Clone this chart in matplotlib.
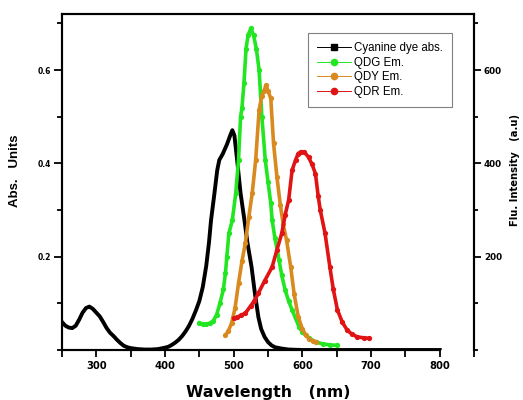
import matplotlib
matplotlib.use('Agg')
import matplotlib.pyplot as plt
from matplotlib.lines import Line2D
from matplotlib.ticker import MultipleLocator

# ---- data ----

abs_nm = [250, 255, 260, 265, 270, 275, 280, 285, 290, 295, 300, 305, 310, 315, 320,
          325, 330, 335, 340, 345, 350, 360, 370, 380, 390, 400, 405, 410, 415, 420,
          425, 430, 435, 440, 445, 450, 455, 460, 464, 467, 472, 476, 479, 484, 490,
          495, 498, 501, 505, 510, 515, 520, 526, 531, 536, 540, 545, 550, 555, 560,
          570, 580, 600, 700, 800]
abs_val = [0.060, 0.052, 0.048, 0.047, 0.052, 0.065, 0.080, 0.090, 0.093, 0.088, 0.080,
           0.072, 0.060, 0.047, 0.037, 0.030, 0.022, 0.015, 0.009, 0.006, 0.004, 0.002,
           0.001, 0.001, 0.002, 0.005, 0.007, 0.011, 0.016, 0.022, 0.030, 0.040, 0.052,
           0.067, 0.085, 0.105, 0.135, 0.180, 0.230, 0.278, 0.336, 0.385, 0.407, 0.420,
           0.440, 0.460, 0.471, 0.460, 0.407, 0.336, 0.285, 0.230, 0.178, 0.120, 0.070,
           0.045, 0.028, 0.017, 0.010, 0.006, 0.003, 0.001, 0.0, 0.0, 0.0]

qdg_nm = [450, 455, 460, 465, 470, 475, 480, 485, 488, 490, 493, 498, 503, 507, 510,
          512, 515, 518, 521, 525, 529, 533, 537, 541, 546, 550, 554, 556, 560, 566,
          570, 575, 580, 585, 590, 595, 600, 610, 620, 630, 640, 650]
qdg_val = [58, 55, 55, 57, 62, 75, 100, 130, 165, 200, 250, 278, 336, 407, 500,
           518, 573, 646, 675, 689, 674, 645, 600, 500, 407, 360, 314, 278, 240, 193,
           160, 128, 105, 86, 68, 50, 38, 25, 17, 13, 11, 10]

qdy_nm = [488, 492, 497, 502, 507, 512, 517, 522, 527, 532, 537, 541, 544, 547, 550,
          554, 558, 563, 568, 572, 577, 583, 588, 594, 600, 605, 610, 615, 620]
qdy_val = [32, 40, 58, 90, 143, 190, 229, 285, 336, 407, 514, 545, 555, 567, 555,
           539, 443, 370, 310, 270, 235, 178, 120, 71, 45, 32, 24, 19, 17]

qdr_nm = [500, 505, 510, 517, 525, 530, 536, 545, 556, 563, 570, 575, 580, 585, 590,
          594, 598, 603, 609, 614, 619, 623, 626, 633, 640, 645, 651, 658, 665, 672,
          680, 690, 697]
qdr_val = [68, 70, 74, 79, 95, 105, 122, 148, 178, 215, 250, 290, 321, 385, 407,
           421, 425, 424, 413, 398, 378, 330, 300, 250, 178, 130, 86, 60, 43, 34,
           28, 26, 25]

labels = ['Cyanine dye abs.', 'QDG Em.', 'QDY Em.', 'QDR Em.']
colors = ['black', '#22e622', '#d98a1e', '#e01414']

# ---- plot ----

fig = plt.figure(figsize=(5.23, 4.0), dpi=100)
ax = fig.add_axes([0.1185, 0.125, 0.788, 0.84])
ax2 = ax.twinx()

ax.plot(abs_nm, abs_val, color=colors[0], lw=2.8, zorder=3)
ax2.plot(qdg_nm, qdg_val, color=colors[1], lw=2.6, marker='o', ms=3.8, mew=0)
ax2.plot(qdy_nm, qdy_val, color=colors[2], lw=2.6, marker='o', ms=3.8, mew=0)
ax2.plot(qdr_nm, qdr_val, color=colors[3], lw=2.6, marker='o', ms=3.8, mew=0)

ax.set_xlim(250, 850)
ax.set_ylim(0, 0.72)
ax2.set_ylim(0, 720)

ax.xaxis.set_minor_locator(MultipleLocator(50))
ax.yaxis.set_minor_locator(MultipleLocator(0.1))
ax2.yaxis.set_minor_locator(MultipleLocator(100))
ax.set_xticks([300, 400, 500, 600, 700, 800])
ax.set_yticks([0.2, 0.4, 0.6])
ax.set_yticklabels(['0.2', '0.4', '0.6'])
ax2.set_yticks([200, 400, 600])

for a in (ax, ax2):
    for s in a.spines.values():
        s.set_linewidth(1.5)
ax.spines['bottom'].set_bounds(250, 800)
ax2.spines['bottom'].set_bounds(250, 800)

ax.tick_params(axis='x', which='both', direction='out', length=5, width=1.3,
               labelsize=7.2, pad=3)
ax.tick_params(axis='y', which='major', direction='out', length=6, width=1.3,
               labelsize=5.5, pad=2)
ax.tick_params(axis='y', which='minor', direction='out', length=3.5, width=1.3)
ax2.tick_params(axis='y', which='major', direction='out', length=5, width=1.3,
                labelsize=6.3, pad=2)
ax2.tick_params(axis='y', which='minor', direction='out', length=3, width=1.3)

for t in ax.get_xticklabels() + ax.get_yticklabels() + ax2.get_yticklabels():
    t.set_fontfamily('DejaVu Sans')
    t.set_fontweight('bold')

ax.set_xlabel('Wavelength   (nm)', fontsize=11.3, fontweight='bold',
              family='DejaVu Sans')
ax.xaxis.set_label_coords(0.5, -0.105)
ax.set_ylabel('Abs.   Units', fontsize=9.5, fontweight='bold',
              family='Liberation Sans')
ax.yaxis.set_label_coords(-0.1, 0.533)
ax2.set_ylabel('Flu. Intensity   (a.u)', fontsize=7.2, fontweight='bold',
               family='DejaVu Sans')
ax2.yaxis.set_label_coords(1.086, 0.536)

handles = [
    Line2D([], [], color='black', lw=0.7, marker='s', ms=4),
    Line2D([], [], color=colors[1], lw=0.7, marker='o', ms=4.5),
    Line2D([], [], color=colors[2], lw=0.7, marker='o', ms=4.5),
    Line2D([], [], color=colors[3], lw=0.7, marker='o', ms=4.5),
]
leg = ax2.legend(handles, labels, loc='upper right', bbox_to_anchor=(0.947, 0.943),
                 prop={'family': 'Liberation Sans', 'size': 8.3}, fancybox=False,
                 edgecolor='#808080', framealpha=1, handlelength=2.9,
                 labelspacing=0.22, borderpad=0.8, handletextpad=0.3, borderaxespad=0)
leg.get_frame().set_linewidth(0.8)

fig.savefig('out.png', dpi=100)
